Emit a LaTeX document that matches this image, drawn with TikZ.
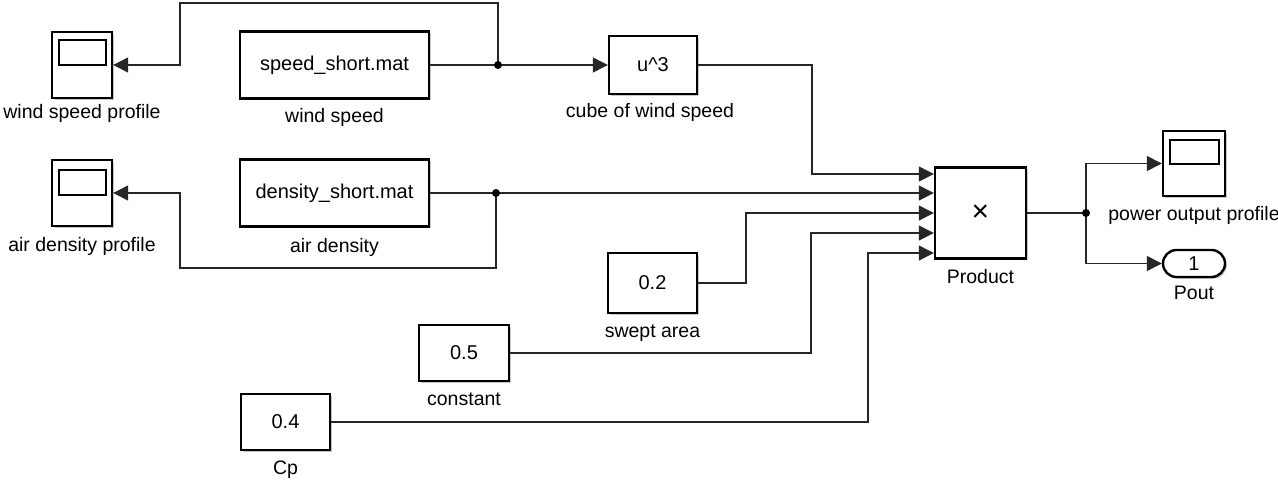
\documentclass[tikz,border=0pt]{standalone}
\usepackage{fontspec}
\setmainfont{Liberation Sans}
\usetikzlibrary{arrows.meta,shadows,calc,shapes.misc}
\begin{document}
\begin{tikzpicture}[x=1pt,y=-1pt,
  blk/.style={draw=black,line width=2.4pt,fill=white,inner sep=0pt,
    font=\fontsize{20}{24}\selectfont,
    drop shadow={shadow xshift=1.8pt,shadow yshift=-1.8pt,opacity=0.35,fill=black!60}},
  lbl/.style={anchor=base,inner sep=0pt,font=\fontsize{19.5}{23}\selectfont},
  sig/.style={draw=black!85,line width=1.3pt,-{Triangle[length=15pt,width=15pt]}},
  wire/.style={draw=black!85,line width=1.3pt},
  dot/.style={circle,fill=black,inner sep=0pt,minimum size=8pt},
  screen/.style={draw=black,line width=2.2pt}]
\fill[white] (0,0) rectangle (1278,480);
\useasboundingbox (0,0) rectangle (1278,480);

% blocks
\node[blk,minimum width=60pt,minimum height=66pt] (sc1) at (82,65) {};
\node[blk,minimum width=189pt,minimum height=67pt] (ws) at (334.5,65) {speed\_short.mat};
\node[blk,minimum width=88pt,minimum height=58pt] (cube) at (653,65) {u\textasciicircum 3};
\node[blk,minimum width=60pt,minimum height=66pt] (sc2) at (82,193) {};
\node[blk,minimum width=189pt,minimum height=67pt] (dens) at (334.5,193) {density\_short.mat};
\node[blk,minimum width=91pt,minimum height=91pt,font=\fontsize{30}{34}\selectfont] (prod) at (980.5,213) {×};
\node[blk,minimum width=89pt,minimum height=60pt] (swept) at (652.5,283) {0.2};
\node[blk,minimum width=90pt,minimum height=56pt] (const) at (464,353) {0.5};
\node[blk,minimum width=89pt,minimum height=56pt] (cp) at (285.5,422) {0.4};
\node[blk,minimum width=62pt,minimum height=65pt] (sc3) at (1194,163.5) {};
\node[blk,rounded rectangle,minimum width=62pt,minimum height=27pt] (pout) at (1194,263.5) {1};

% scope screens
\draw[screen] ($(sc1.north west)+(8,9)$) rectangle ($(sc1.north east)+(-7,34)$);
\draw[screen] ($(sc2.north west)+(8,11)$) rectangle ($(sc2.north east)+(-7,36)$);
\draw[screen] ($(sc3.north west)+(8,10)$) rectangle ($(sc3.north east)+(-7,34)$);

% labels
\node[lbl] (lsc1) at (82,118) {wind speed profile};
\node[lbl] (lws) at (334.5,122) {wind speed};
\node[lbl] (lcube) at (650,117) {cube of wind speed};
\node[lbl] (lsc2) at (82,251) {air density profile};
\node[lbl] (ldens) at (334.5,252) {air density};
\node[lbl] (lprod) at (980.5,283) {Product};
\node[lbl] (lsc3) at (1194,220) {power output profile};
\node[lbl] (lpout) at (1194,299) {Pout};
\node[lbl] (lswept) at (652.5,337) {swept area};
\node[lbl] (lconst) at (464,405) {constant};
\node[lbl] (lcp) at (285.5,474) {Cp};

% ports
\coordinate (p1) at ([yshift=39pt]prod.west);
\coordinate (p2) at ([yshift=20pt]prod.west);
\coordinate (p3) at (prod.west);
\coordinate (p4) at ([yshift=-20pt]prod.west);
\coordinate (p5) at ([yshift=-40pt]prod.west);

% junctions
\coordinate (j1) at (498,65);
\coordinate (j2) at (496,193);
\coordinate (j3) at (1086,213);

% connectors
\draw[wire] (ws.east) -- (j1);
\draw[sig] (j1) -- (cube.west);
\draw[sig] (j1) -- (498,3) -- (180,3) |- (sc1.east);
\draw[sig] (cube.east) -| (812,174) -- (p1);

\draw[wire] (dens.east) -- (j2);
\draw[sig] (j2) -- (p2);
\draw[sig] (j2) -- (496,268) -- (180,268) |- (sc2.east);

\draw[sig] (swept.east) -| (746,213) -- (p3);
\draw[sig] (const.east) -| (811,233) -- (p4);
\draw[sig] (cp.east) -| (868,253) -- (p5);

\draw[wire] (prod.east) -- (j3);
\draw[sig] (j3) |- (sc3.west);
\draw[sig] (j3) |- (pout.west);

\node[dot] (d1) at (j1) {};
\node[dot] (d2) at (j2) {};
\node[dot] (d3) at (j3) {};
\end{tikzpicture}
\end{document}
